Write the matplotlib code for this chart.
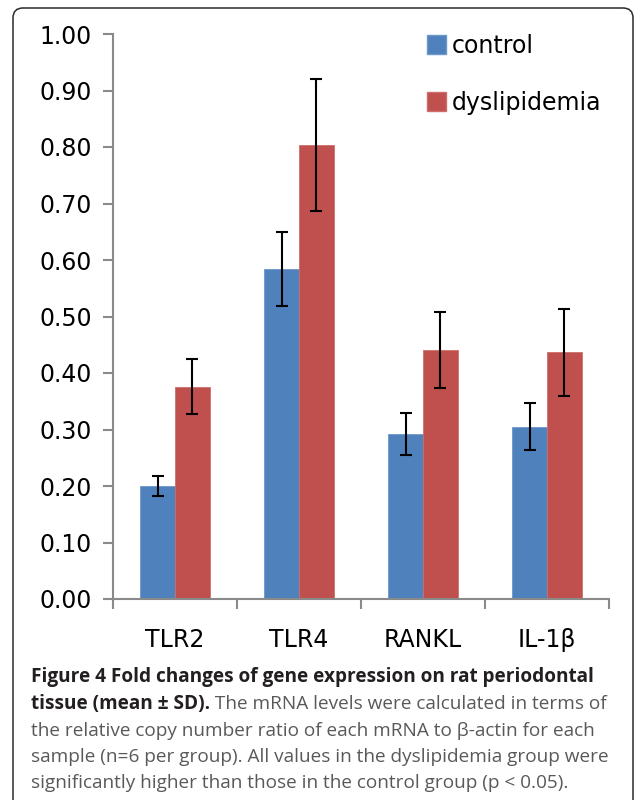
import matplotlib
matplotlib.use("Agg")
import matplotlib.pyplot as plt
from matplotlib.patches import FancyBboxPatch, Patch
from matplotlib.transforms import IdentityTransform
import numpy as np

categories = ["TLR2", "TLR4", "RANKL", "IL-1β"]
control = [0.200, 0.584, 0.292, 0.305]
control_sd = [0.017, 0.066, 0.037, 0.042]
dyslipidemia = [0.376, 0.804, 0.441, 0.437]
dyslipidemia_sd = [0.049, 0.117, 0.067, 0.077]
series_names = ["control", "dyslipidemia"]
yticks = [0.0, 0.1, 0.2, 0.3, 0.4, 0.5, 0.6, 0.7, 0.8, 0.9, 1.0]

caption_lines = [
    ("Figure 4 Fold changes of gene expression on rat periodontal", ""),
    ("tissue (mean ± SD).", " The mRNA levels were calculated in terms of"),
    ("", "the relative copy number ratio of each mRNA to β-actin for each"),
    ("", "sample (n=6 per group). All values in the dyslipidemia group were"),
    ("", "significantly higher than those in the control group (p < 0.05)."),
]

plt.rcParams["font.family"] = ["DejaVu Sans"]

W, H, DPI = 634, 800, 100
fig = plt.figure(figsize=(W / DPI, H / DPI), dpi=DPI)
fig.patch.set_facecolor("white")

# border box (rounded top corners), in pixel coordinates
border = FancyBboxPatch((13, -30), 633 - 13, 792 + 30,
                        boxstyle="round,pad=0,rounding_size=10",
                        transform=IdentityTransform(), fill=False,
                        edgecolor="#2b2b2b", linewidth=1.1)
fig.patches.append(border)

ax_left, ax_right = 113 / W, 609 / W
ax_bottom, ax_top = (H - 599) / H, (H - 34) / H
ax = fig.add_axes([ax_left, ax_bottom, ax_right - ax_left, ax_top - ax_bottom])

x = np.arange(len(categories))
bw = 0.282
blue, red = "#4F81BD", "#C0504D"
ekw = dict(ecolor="black", elinewidth=1.5, capsize=4.3, capthick=1.5)
ax.bar(x - bw / 2, control, bw, color=blue, edgecolor="#6d96c9", linewidth=0.6,
       yerr=control_sd, error_kw=ekw, label=series_names[0], zorder=2)
ax.bar(x + bw / 2, dyslipidemia, bw, color=red, edgecolor="#cc6e6b", linewidth=0.6,
       yerr=dyslipidemia_sd, error_kw=ekw, label=series_names[1], zorder=2)

ax.set_xlim(-0.5, len(categories) - 0.5)
ax.set_ylim(0, 1.0)
ax.set_yticks(yticks)
ax.set_yticklabels([f"{v:.2f}" for v in yticks])
ax.set_xticks(x)
ax.set_xticklabels(categories)
ax.set_xticks(np.arange(-0.5, len(categories), 1.0), minor=True)

axis_gray = "#8a8a8a"
for s in ["top", "right"]:
    ax.spines[s].set_visible(False)
for s in ["left", "bottom"]:
    ax.spines[s].set_color(axis_gray)
    ax.spines[s].set_linewidth(1.5)

ax.tick_params(axis="y", direction="out", length=7.2, width=1.5, color=axis_gray,
               labelsize=17, pad=8, labelcolor="black")
ax.tick_params(axis="x", which="major", length=0, labelsize=17, pad=21, labelcolor="black")
ax.tick_params(axis="x", which="minor", direction="out", length=7.2, width=1.5, color=axis_gray)

handles = [Patch(facecolor=blue, edgecolor="#6d96c9"), Patch(facecolor=red, edgecolor="#cc6e6b")]
leg = ax.legend(handles, series_names, loc="upper left",
                bbox_to_anchor=(427 / W, (H - 34) / H), bbox_transform=fig.transFigure,
                frameon=False, fontsize=17, handlelength=0.8, handleheight=0.85,
                handletextpad=0.25, labelspacing=1.4, borderpad=0, borderaxespad=0)

# caption
cap_font = "Open Sans"
bold_color = "#231f20"
reg_color = "#58595b"
fig.canvas.draw()
renderer = fig.canvas.get_renderer()
probe = fig.text(0, 0, caption_lines[0][0], fontsize=12, fontweight="bold", family=cap_font)
wpx = probe.get_window_extent(renderer).width
probe.remove()
target = 594 - 31
cap_size = 12 * target / wpx

x0 = 31
baselines = [682, 709, 736, 762, 788]
for (b, r), yb in zip(caption_lines, baselines):
    yf = (H - yb) / H
    xcur = x0
    if b:
        t = fig.text(xcur / W, yf, b, fontsize=cap_size, fontweight="bold",
                     family=cap_font, color=bold_color, va="baseline", ha="left")
        xcur += t.get_window_extent(renderer).width
    if r:
        fig.text(xcur / W, yf, r, fontsize=cap_size, family=cap_font,
                 color=reg_color, va="baseline", ha="left")

fig.savefig("out.png", dpi=DPI, facecolor="white")
